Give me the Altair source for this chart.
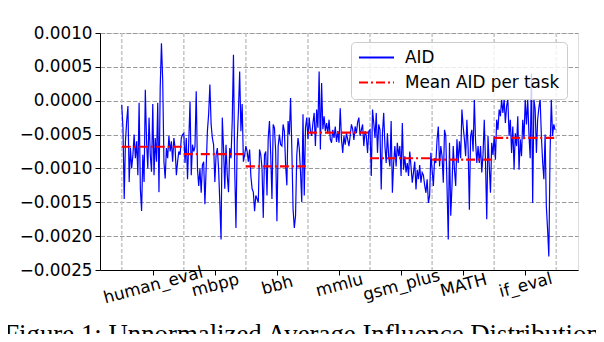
import altair as alt
import pandas as pd

tasks = ["human_eval", "mbpp", "bbh", "mmlu", "gsm_plus", "MATH", "if_eval"]

# AID values per task, in units of 1e-4
human_eval = [-0.6, -4, -14.5, -6, -3, -0.8, -12, -7, -10, -8,
              -5, -8.5, -6, -11, -0.3, -13, -16.3, -8, -12, 1.6,
              -6, -10, -2.5, -8, -10.5, -0.5, -11, -5.5, -9, -0.3,
              -13.5, 2, 8.5, 3, -9, -11.5, -7, -8.5, -5.2, -7.5,
              -6, -9, -5.5, -7, -11, -9, -7.5, -8, -5.5, -5]
mbpp = [-4.8, -9.2, -5.5, -11.6, -6, -0.1, -11, -6.5, -7.5, -6.8,
        1.4, -10, -12.6, -10, -13.6, -9.5, -9, -15.3, -10, -4.5,
        -2, 2.4, -3.5, -5.5, -6.5, -12, -8, -7, -10, -15,
        -20.5, -2.5, -7, -13, -6.5, -11, -13.5, -7, -8.5, -3,
        6.8, -10, -18.8, -6, -1.5, 4.3, -4.5, -0.5, -9, -8]
bbh = [-6.7, -7.5, -9, -7.2, -11.1, -13, -13.5, -16.3, -14, -14.5,
       -15, -7.2, -8, -10, -17.3, -8, -7.5, -14, -5.5, -3,
       -8, -14.5, -3.5, -4, -7.5, -17.8, -6.7, -5, -6.5, -6.7,
       -3.5, -4.5, -9.5, -12.5, -3, -5, 0.4, -7, -16, -18.8,
       -17, -8, -5.5, -7, -10.5, -15, -2, -14, -4, -2.5]
mmlu = [-5.7, -2.5, -4.5, -5.2, -3.3, -1.8, -6.7, -1.3, -4, 4.3,
        -7.2, 2.6, -4.2, -2.3, -4.5, -3.3, -4.8, -2.8, -5.7, -6.2,
        -4.3, -5.5, -3.8, -6.1, -4.5, -6.2, -1.1, -5.7, -7.7, -5.2,
        -6.5, -4.8, -5.7, -6.7, -5.2, -3.5, -4.2, -5.8, -3.8, -4.8,
        -3.2, -2.5, -5.2, -4.3, -3.5, -6.7, -4.5, -5.2, -7.7, -4.5]
gsm_plus = [-4.3, -11.1, -1.3, -3.3, -5.5, -1.8, -7.7, -3.5, -4.3, -13.1,
            -4.8, -1.8, -6.7, -9.2, -4.8, -8.2, -9.7, -3, -13.6, -9.2,
            -6.7, -9.7, -6.2, -8.2, -6.7, -11.1, -3.3, -10.2, -8.2, -10.6,
            -9.2, -11.1, -7.5, -9.7, -12.1, -10.6, -9, -13.1, -10.2, -11.6,
            -9.5, -12.1, -10.6, -11, -12.5, -13.6, -11.6, -15.1, -14, -7.7]
math_ = [-10.2, -12.6, -8.5, -9.2, -5.7, -3.8, -9.7, -6.7, -8.2, -12.1,
         -4.3, -5.2, -12.6, -20.5, -6.2, -17, -12.6, -6.7, -10.2, -12.6,
         -5.7, -9.2, -6, -8.5, -1.3, -3.8, -5.7, -8.2, -2.8, -7,
         -16.1, -5.2, -4.3, -7.5, 0.2, -6, -9.2, -6.7, -9.2, -6.7,
         -10.6, -8, -2.8, -9, -17.5, -5.2, -9.5, -13.6, -6.2, -8]
if_eval = [-5.2, -8.7, -2.8, -4.3, -1.3, -2.3, 0.2, -1.8, 0.2, -3.3,
           -0.8, 0.2, -5.2, -2.8, -7.7, -3.8, -10.2, -4.8, -6.7, -2.3,
           -10.2, -5.7, -8.2, -2.8, -5.7, 0.2, -3.5, 0.2, -5, -8.5,
           4, -15.1, 0.2, -1.3, -7.7, -2.8, -1, 0.2, -5.2, -9,
           -11.6, -5, -15.6, -19, -23, -7.7, 0.2, -5.2, -3.5, -4.3]

# mean AID per task, in units of 1e-4
mean_aid = [-6.8, -7.9, -9.7, -4.7, -8.5, -8.7, -5.5]

y_ticks = [0.0010, 0.0005, 0.0, -0.0005, -0.0010, -0.0015, -0.0020, -0.0025]

series_list = [human_eval, mbpp, bbh, mmlu, gsm_plus, math_, if_eval]
LABEL_AID = "AID"
LABEL_MEAN = "Mean AID per task"

rows = []
starts = []
idx = 0
for t, vals in zip(tasks, series_list):
    starts.append(idx)
    for v in vals:
        rows.append({"idx": idx, "aid": v * 1e-4, "task": t, "series": LABEL_AID})
        idx += 1
n = idx
line_df = pd.DataFrame(rows)

mean_df = pd.DataFrame({
    "task": tasks,
    "start": starts,
    "end": [s + len(v) for s, v in zip(starts, series_list)],
    "mean": [m * 1e-4 for m in mean_aid],
    "series": LABEL_MEAN,
})
bound_df = pd.DataFrame({"b": starts + [n]})
centers = [s + len(v) / 2 for s, v in zip(starts, series_list)]

label_expr = "[" + ",".join("'" + t + "'" for t in tasks) + "][round((datum.value - %g) / %g)]" % (centers[0], centers[1] - centers[0])

xscale = alt.Scale(domain=[-0.05 * n, 1.05 * n], nice=False, zero=False)
yscale = alt.Scale(domain=[-0.0025, 0.0010], nice=False, zero=False)

FONT = "DejaVu Sans"
FS = 16.8

color_scale = alt.Scale(domain=[LABEL_AID, LABEL_MEAN], range=["#0000ff", "#ff0000"])
dash_scale = alt.Scale(domain=[LABEL_AID, LABEL_MEAN], range=[[1, 0], [9, 3, 2, 3]])

legend = alt.Legend(
    title=None, orient="none", legendX=251, legendY=9,
    symbolType="stroke", symbolSize=1225, symbolStrokeWidth=1.8,
    clipHeight=17,
    labelFont=FONT, labelFontSize=FS, labelColor="black",
    padding=7, rowPadding=7, labelOffset=10,
    fillColor="rgba(255,255,255,0.8)", strokeColor="#cccccc", cornerRadius=4,
)

x_axis = alt.Axis(
    values=centers, labelExpr=label_expr, title=None, grid=False,
    labelAngle=345, labelAlign="center", labelBaseline="middle",
    labelOverlap=False,
    labelPadding=10, tickSize=5, tickColor="black", domainColor="black",
    labelFont=FONT, labelFontSize=FS, labelColor="black",
)
y_axis = alt.Axis(
    values=y_ticks, format=".4f", title=None, grid=True,
    gridDash=[4.5, 2], gridColor="#9a9a9a", gridWidth=1,
    tickSize=5, tickColor="black", domainColor="black", labelPadding=3,
    labelFont=FONT, labelFontSize=FS, labelColor="black",
)

bounds = alt.Chart(bound_df).mark_rule(
    color="#c8c8c8", strokeDash=[4, 2], strokeWidth=1.6
).encode(x=alt.X("b:Q", scale=xscale, axis=x_axis))

line = alt.Chart(line_df).mark_line(strokeWidth=1.2).encode(
    x=alt.X("idx:Q", scale=xscale, axis=x_axis),
    y=alt.Y("aid:Q", scale=yscale, axis=y_axis),
    color=alt.Color("series:N", scale=color_scale, legend=legend),
    strokeDash=alt.StrokeDash("series:N", scale=dash_scale, legend=legend),
)

means = alt.Chart(mean_df).mark_rule(strokeWidth=2.2).encode(
    x=alt.X("start:Q", scale=xscale, axis=x_axis),
    x2="end:Q",
    y=alt.Y("mean:Q", scale=yscale, axis=y_axis),
    color=alt.Color("series:N", scale=color_scale, legend=legend),
    strokeDash=alt.StrokeDash("series:N", scale=dash_scale, legend=legend),
)

chart = alt.layer(bounds, line, means).properties(
    width=478, height=237,
    autosize=alt.AutoSizeParams(type="none"),
    padding={"left": 92, "top": 25, "right": 18, "bottom": 64},
    title=alt.TitleParams(
        text="Figure 1: Unnormalized Average Influence Distribution",
        orient="bottom", anchor="start", font="Liberation Serif",
        fontSize=26.8, fontWeight="normal", color="black",
        baseline="alphabetic", dx=-15, offset=36,
    ),
).configure_view(stroke="black", strokeWidth=1).configure(background="white")

chart.save("out.html", embed_options={"renderer": "svg", "actions": False})
